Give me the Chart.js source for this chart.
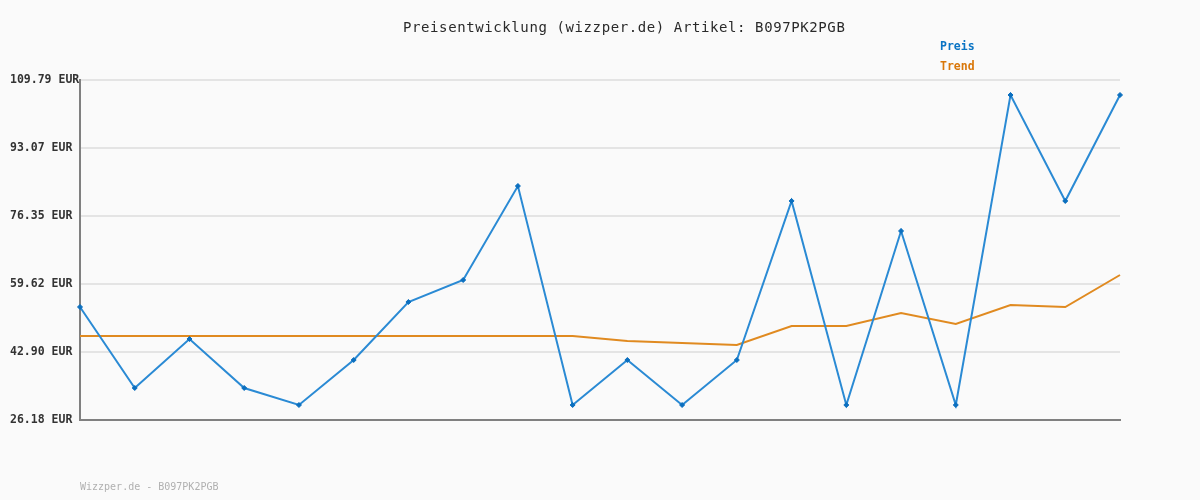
<!DOCTYPE html>
<html><head><meta charset="utf-8">
<script src="https://cdn.jsdelivr.net/npm/chart.js@4"></script>
<style>html,body{margin:0;padding:0;background:#fafafa;}#wrap{width:1200px;height:500px;}</style>
</head><body><div id="wrap"><canvas id="c" width="1200" height="500"></canvas></div>
<script>
const categories = ['1','2','3','4','5','6','7','8','9','10','11','12','13','14','15','16','17','18','19','20'];
const preis = [53.97, 34.05, 46.10, 34.05, 29.87, 40.93, 55.20, 60.61, 83.72, 29.87, 40.93, 29.87, 40.93, 80.04, 29.87, 72.66, 29.87, 106.10, 80.04, 106.10];
const trend = [46.84, 46.84, 46.84, 46.84, 46.84, 46.84, 46.84, 46.84, 46.84, 46.84, 45.61, 45.11, 44.62, 49.30, 49.30, 52.49, 49.79, 54.46, 53.97, 61.84];
const yTicks = [26.18, 42.90, 59.62, 76.35, 93.07, 109.79];
const titleText = 'Preisentwicklung (wizzper.de) Artikel: B097PK2PGB';
const legendLabels = ['Preis', 'Trend'];
const footerText = 'Wizzper.de - B097PK2PGB';

const MONO = '"DejaVu Sans Mono", "Liberation Mono", monospace';

const decor = {
  id: 'decor',
  beforeDraw(chart) {
    const ctx = chart.ctx;
    ctx.save();
    ctx.fillStyle = '#fafafa';
    ctx.fillRect(0, 0, chart.width, chart.height);
    ctx.restore();
  },
  afterDraw(chart) {
    const ctx = chart.ctx;
    ctx.save();
    ctx.textBaseline = 'middle';
    ctx.textAlign = 'left';
    ctx.letterSpacing = '0.6px';
    ctx.font = '14px ' + MONO;
    ctx.fillStyle = '#2a2a2a';
    ctx.fillText(titleText, 403, 28);
    ctx.letterSpacing = '0px';
    ctx.font = 'bold 11.5px ' + MONO;
    ctx.fillStyle = '#0a74c4';
    ctx.fillText(legendLabels[0], 940, 47);
    ctx.fillStyle = '#d9770a';
    ctx.fillText(legendLabels[1], 940, 67);
    ctx.font = '10px ' + MONO;
    ctx.fillStyle = '#b0b0b0';
    ctx.fillText(footerText, 80, 487);
    ctx.restore();
  }
};

new Chart(document.getElementById('c'), {
  type: 'line',
  data: {
    labels: categories,
    datasets: [
      { label: legendLabels[0], data: preis, borderColor: '#2a8ad4', borderWidth: 2,
        pointStyle: 'rectRot', pointRadius: 2.5, pointBackgroundColor: '#0b6fbf', pointBorderColor: '#0b6fbf', pointBorderWidth: 1,
        tension: 0, fill: false, order: 1 },
      { label: legendLabels[1], data: trend, borderColor: '#e08a20', borderWidth: 2,
        pointRadius: 0, tension: 0, fill: false, order: 2 }
    ]
  },
  options: {
    responsive: false,
    animation: false,
    devicePixelRatio: 1,
    layout: { padding: { left: 10, right: 80, top: 80, bottom: 80 } },
    plugins: { legend: { display: false }, title: { display: false }, tooltip: { enabled: false } },
    scales: {
      x: {
        type: 'category',
        offset: false,
        grid: { display: false, drawTicks: false },
        border: { display: true, color: '#808080', width: 2 },
        ticks: { display: false },
        afterFit(s) { s.height = 0; }
      },
      y: {
        min: yTicks[0], max: yTicks[yTicks.length - 1],
        afterBuildTicks(s) { s.ticks = yTicks.map(v => ({ value: v })); },
        afterFit(s) { s.width = 70; },
        grid: { color: '#e4e4e4', lineWidth: 2, drawTicks: false },
        border: { display: true, color: '#808080', width: 2 },
        ticks: {
          crossAlign: 'far', padding: 8, color: '#333333',
          font: { family: MONO, size: 11.5, weight: 'bold' },
          callback: v => Number(v).toFixed(2) + ' EUR'
        }
      }
    }
  },
  plugins: [decor]
});
</script>
</body></html>
